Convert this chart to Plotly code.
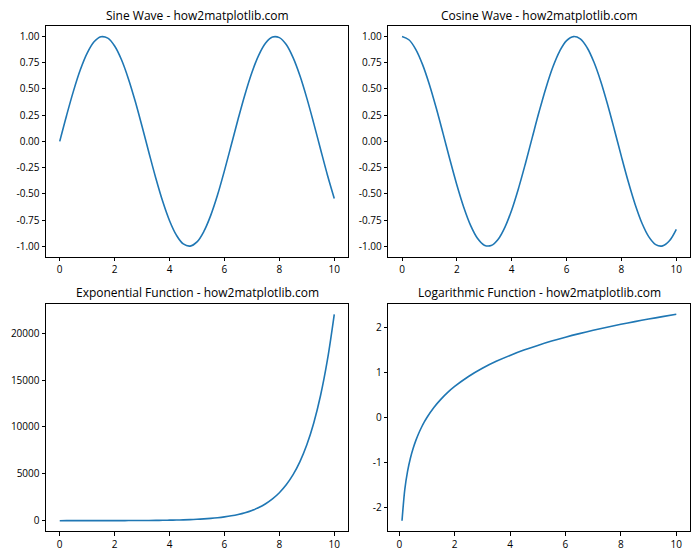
import plotly.graph_objects as go

# ---- data ----
x_wave = [0, 0.25, 0.5, 0.75, 1.0, 1.25, 1.5, 1.75, 2.0, 2.25, 2.5, 2.75, 3.0, 3.25, 3.5, 3.75,
          4.0, 4.25, 4.5, 4.75, 5.0, 5.25, 5.5, 5.75, 6.0, 6.25, 6.5, 6.75, 7.0, 7.25, 7.5, 7.75,
          8.0, 8.25, 8.5, 8.75, 9.0, 9.25, 9.5, 9.75, 10.0]
sine_vals = [0, 0.247, 0.479, 0.682, 0.841, 0.949, 0.997, 0.984, 0.909, 0.778, 0.598, 0.382,
             0.141, -0.108, -0.351, -0.572, -0.757, -0.895, -0.978, -0.999, -0.959, -0.859,
             -0.706, -0.510, -0.279, -0.033, 0.215, 0.450, 0.657, 0.823, 0.938, 0.995, 0.989,
             0.923, 0.798, 0.625, 0.412, 0.174, -0.075, -0.320, -0.544]
cosine_vals = [1.0, 0.969, 0.878, 0.732, 0.540, 0.315, 0.071, -0.178, -0.416, -0.628, -0.801,
               -0.924, -0.990, -0.994, -0.936, -0.820, -0.654, -0.446, -0.211, 0.038, 0.284,
               0.512, 0.709, 0.861, 0.960, 0.999, 0.977, 0.893, 0.754, 0.569, 0.347, 0.104,
               -0.146, -0.386, -0.602, -0.781, -0.911, -0.985, -0.997, -0.948, -0.839]
exp_vals = [1.0, 1.28, 1.65, 2.12, 2.72, 3.49, 4.48, 5.75, 7.39, 9.49, 12.18, 15.64, 20.09,
            25.79, 33.12, 42.52, 54.6, 70.1, 90.0, 115.6, 148.4, 190.6, 244.7, 314.2, 403.4,
            518.0, 665.1, 854.1, 1096.6, 1408.1, 1808.0, 2321.6, 2981.0, 3827.6, 4914.8,
            6310.7, 8103.1, 10404.6, 13359.7, 17154.2, 22026.5]
x_log = [0.1, 0.2, 0.3, 0.4, 0.5, 0.6, 0.7, 0.8, 0.9, 1.0, 1.25, 1.5, 1.75, 2.0, 2.5, 3.0,
         3.5, 4.0, 4.5, 5.0, 5.5, 6.0, 6.5, 7.0, 7.5, 8.0, 8.5, 9.0, 9.5, 10.0]
log_vals = [-2.303, -1.609, -1.204, -0.916, -0.693, -0.511, -0.357, -0.223, -0.105, 0.0,
            0.223, 0.405, 0.560, 0.693, 0.916, 1.099, 1.253, 1.386, 1.504, 1.609, 1.705,
            1.792, 1.872, 1.946, 2.015, 2.079, 2.140, 2.197, 2.251, 2.303]

titles = ["Sine Wave - how2matplotlib.com", "Cosine Wave - how2matplotlib.com",
          "Exponential Function - how2matplotlib.com", "Logarithmic Function - how2matplotlib.com"]

x_ticks = [0, 2, 4, 6, 8, 10]
wave_ticks = [-1.0, -0.75, -0.5, -0.25, 0.0, 0.25, 0.5, 0.75, 1.0]
wave_tick_text = ["-1.00", "-0.75", "-0.50", "-0.25", "0.00", "0.25", "0.50", "0.75", "1.00"]
exp_ticks = [0, 5000, 10000, 15000, 20000]
exp_tick_text = ["0", "5000", "10000", "15000", "20000"]
log_ticks = [-2, -1, 0, 1, 2]
log_tick_text = ["-2", "-1", "0", "1", "2"]

# ---- figure ----
W, H = 700, 560
FONT = "Open Sans"
LINE = "#1f77b4"

fig = go.Figure()

panels = [
    (x_wave, sine_vals, 1.0),
    (x_wave, cosine_vals, 1.0),
    (x_wave, exp_vals, 1.0),
    (x_log, log_vals, 0.8),
]
for i, (xs, ys, sm) in enumerate(panels):
    n = "" if i == 0 else str(i + 1)
    fig.add_trace(go.Scatter(x=xs, y=ys, mode="lines", xaxis="x" + n, yaxis="y" + n,
                             line=dict(color=LINE, width=1.6, shape="spline", smoothing=sm),
                             showlegend=False, hoverinfo="skip"))

xdom = [[46 / W, 348 / W], [388.3 / W, 690 / W]]
ydom = [[1 - 256.7 / H, 1 - 26 / H], [1 - 531 / H, 1 - 304 / H]]

yspecs = [
    ([-1.1, 1.1], wave_ticks, wave_tick_text),
    ([-1.1, 1.1], wave_ticks, wave_tick_text),
    ([-1101, 23127], exp_ticks, exp_tick_text),
    ([-2.533, 2.533], log_ticks, log_tick_text),
]
xranges = [[-0.5, 10.5], [-0.5, 10.5], [-0.5, 10.5], [-0.395, 10.495]]

axis_common = dict(showline=True, linecolor="black", linewidth=1, mirror=True,
                   ticks="outside", ticklen=3.5, tickwidth=0.8, tickcolor="black",
                   showgrid=False, zeroline=False,
                   tickfont=dict(family=FONT, size=10, color="black"))

layout = dict(width=W, height=H, margin=dict(l=0, r=0, t=0, b=0),
              paper_bgcolor="white", plot_bgcolor="white",
              font=dict(family=FONT, color="black"))
annotations = []
for i in range(4):
    r, c = divmod(i, 2)
    n = "" if i == 0 else str(i + 1)
    layout["xaxis" + n] = dict(domain=xdom[c], range=xranges[i], anchor="y" + n,
                               tickvals=x_ticks, ticktext=[str(v) for v in x_ticks],
                               **axis_common)
    yr, tv, tt = yspecs[i]
    layout["yaxis" + n] = dict(domain=ydom[r], range=yr, anchor="x" + n,
                               tickvals=tv, ticktext=tt, **axis_common)
    annotations.append(dict(text=titles[i], xref="paper", yref="paper",
                            x=(xdom[c][0] + xdom[c][1]) / 2, y=ydom[r][1] + 11 / H,
                            xanchor="center", yanchor="middle", showarrow=False,
                            font=dict(family=FONT, size=12, color="black")))
layout["annotations"] = annotations
fig.update_layout(**layout)

fig.write_html("out.html")
